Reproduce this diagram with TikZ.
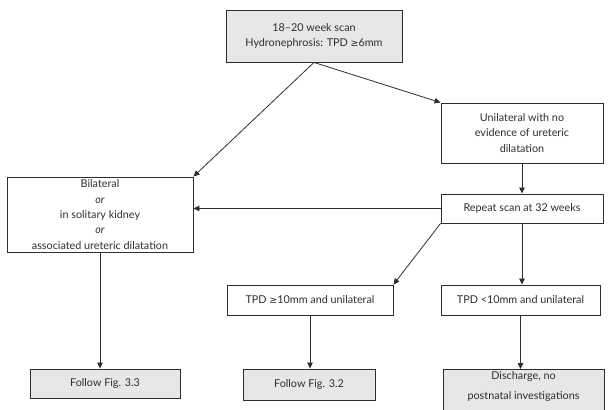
\documentclass[tikz,border=0pt]{standalone}
\usepackage{fontspec}
\setmainfont{Lato}
\newfontfamily\symfont{DejaVu Sans}
\newcommand\gesign{{\symfont\fontsize{9.5}{11}\selectfont ≥}}
\usetikzlibrary{arrows.meta}
\definecolor{boxgrey}{HTML}{E6E7E9}
\definecolor{ink}{HTML}{2E2E2E}
\definecolor{txt}{HTML}{2E2E2E}
\tikzset{
  box/.style={draw=ink, line width=0.9pt, align=center, inner sep=0pt, text=txt,
    font=\fontsize{10.8}{15.5}\selectfont, minimum height=#1},
  box/.default=30pt,
  greybox/.style={box=#1, fill=boxgrey},
  greybox/.default=30pt,
  plaintext/.style={align=center, inner sep=0pt, text=txt, font=\fontsize{10.8}{20}\selectfont},
  arr/.style={draw=ink, line width=0.8pt, -{Triangle[length=6pt,width=5.5pt]}}
}
\begin{document}
\begin{tikzpicture}[x=1pt,y=-1pt]
\useasboundingbox (0,0) rectangle (609,409);
\clip (0,0) rectangle (609,409);
\node[greybox=52pt, minimum width=176pt] (top) at (314,36) {18–20 week scan\\Hydronephrosis: TPD \gesign6mm};
\node[box=60pt, minimum width=162pt] (unil) at (522,133) {Unilateral with no\\evidence of ureteric\\dilatation};
\node[box=75pt, minimum width=186pt, font=\fontsize{10.8}{15.3}\selectfont] (bil) at (100,214.5) {Bilateral\\\textit{or}\\in solitary kidney\\\textit{or}\\associated ureteric dilatation};
\node[box=29pt, minimum width=162pt] (rep) at (522,208.5) {Repeat scan at 32 weeks};
\node[box=30pt, minimum width=166pt] (tpda) at (310,300) {TPD \gesign10mm and unilateral};
\node[box=30pt, minimum width=159pt] (tpdb) at (520.5,300) {TPD <10mm and unilateral};
\node[greybox=29pt, minimum width=150pt] (f33) at (105,383.5) {Follow Fig. 3.3};
\node[greybox=31pt, minimum width=132pt] (f32) at (309,384.5) {Follow Fig. 3.2};
\node[greybox=52pt, minimum width=161pt, anchor=north] (dis) at (523.5,369) {};
\node[plaintext, anchor=north] (distxt) at ([yshift=-2pt]dis.north) {Discharge, no\\postnatal investigations};
\draw[arr] (top.south) -- (bil.north east);
\draw[arr] (top.south) -- (unil.north west);
\draw[arr] (unil.south) -- (rep.north);
\draw[arr] (rep.west) -- (rep.west -| bil.east);
\draw[arr] (rep.south west) -- (tpda.north east);
\draw[arr] (rep.south) -- (rep.south |- tpdb.north);
\draw[arr] (bil.south) -- (bil.south |- f33.north);
\draw[arr] (tpda.south) -- (tpda.south |- f32.north);
\draw[arr] (tpdb.south) -- (tpdb.south |- dis.north);
\end{tikzpicture}
\end{document}
